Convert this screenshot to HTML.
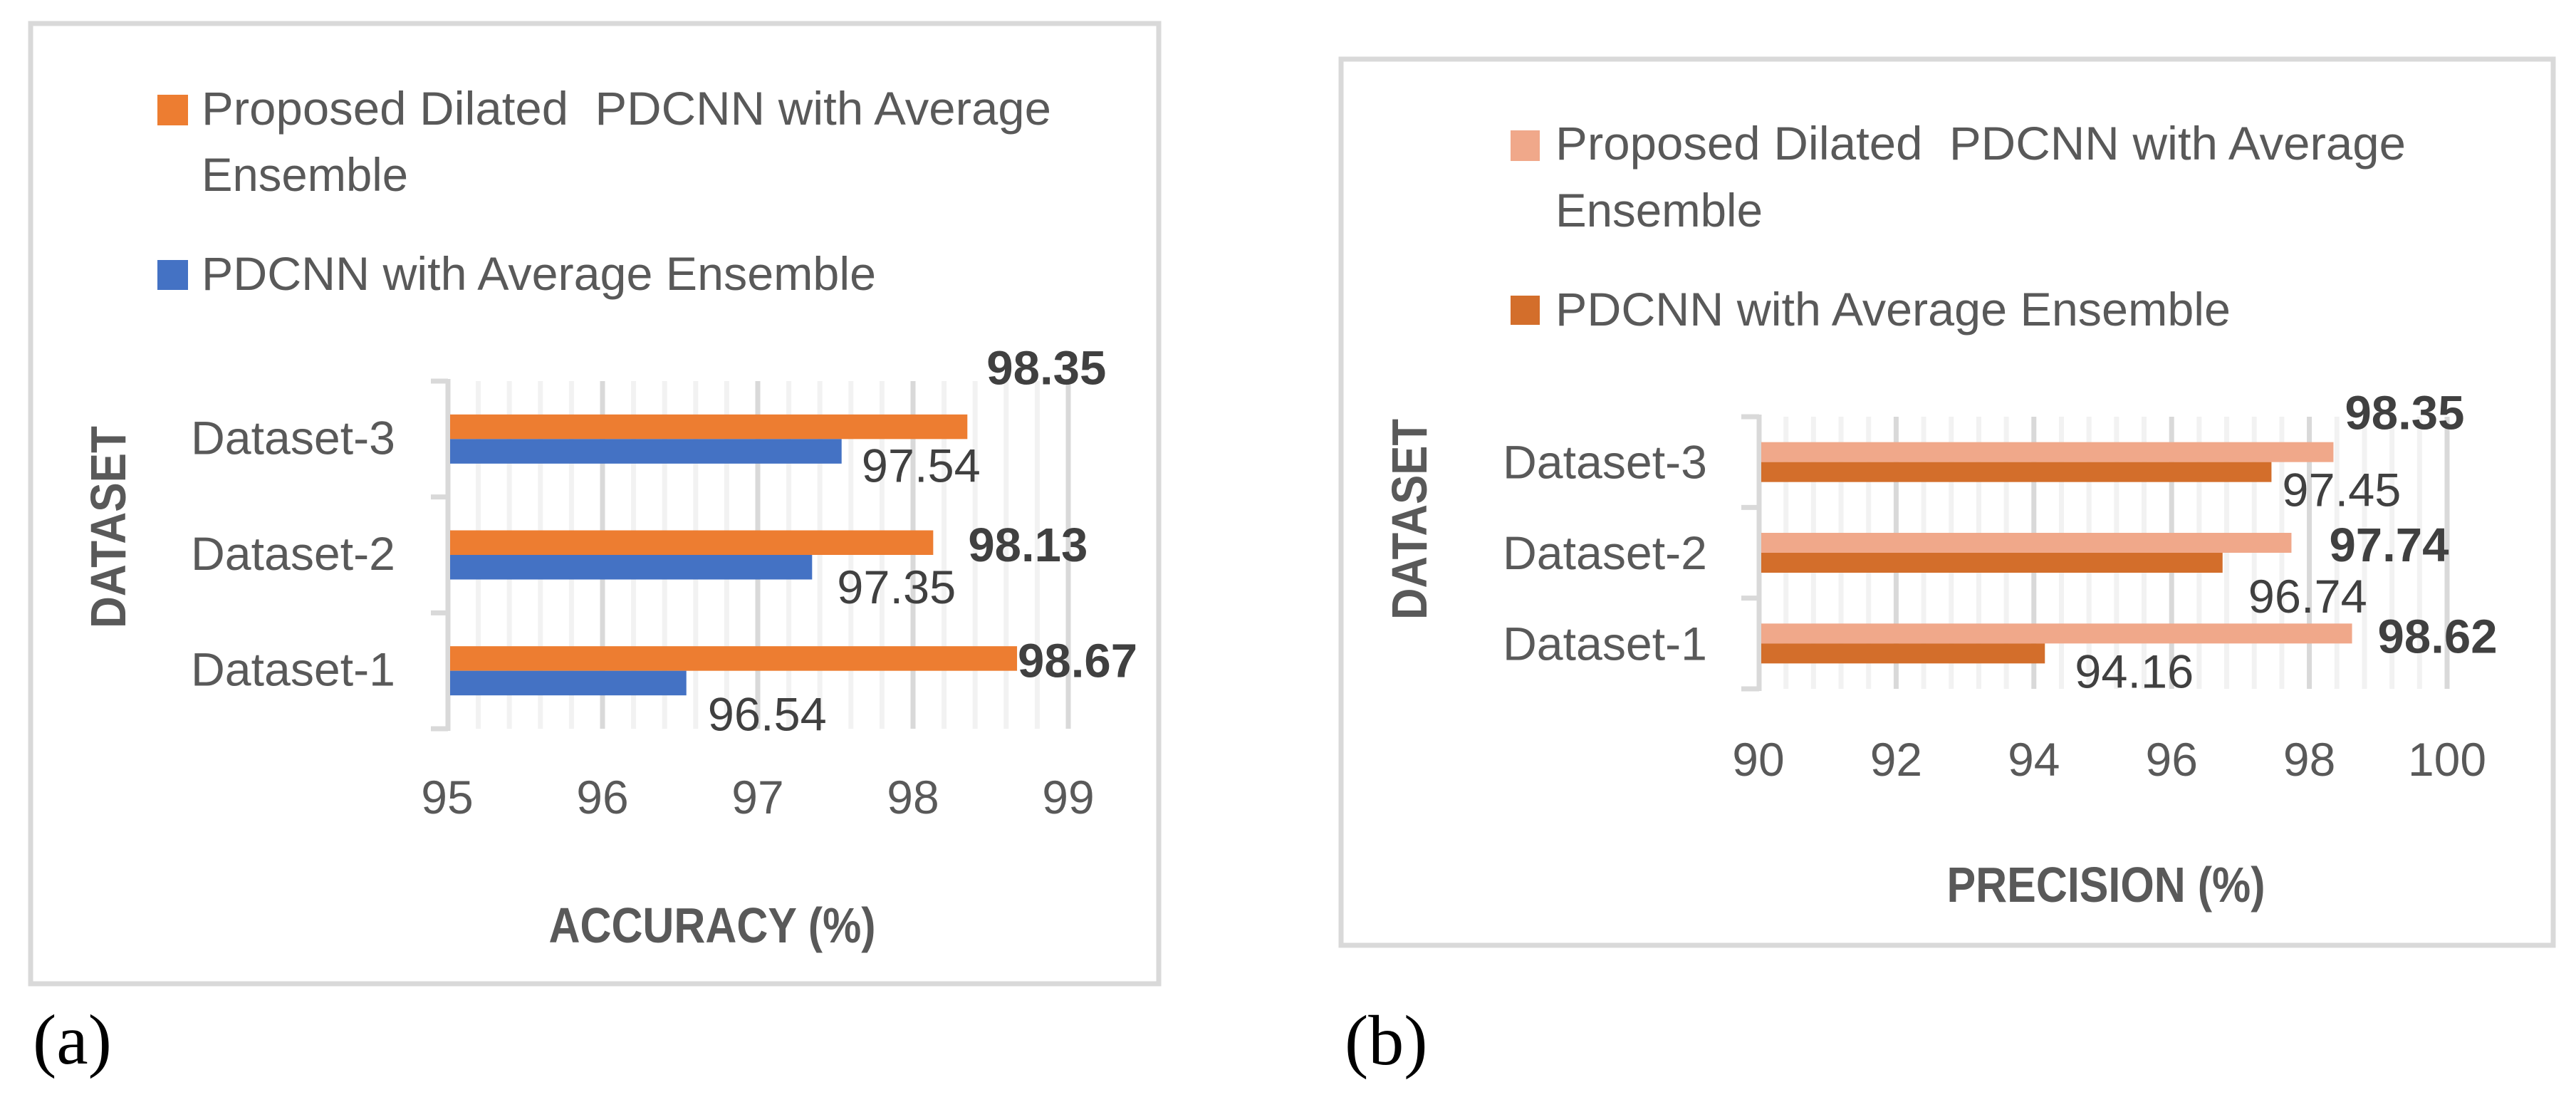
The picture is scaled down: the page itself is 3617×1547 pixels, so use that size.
<!DOCTYPE html>
<html><head><meta charset="utf-8"><style>
html,body{margin:0;padding:0;background:#fff;}
svg{display:block;}
text{font-family:"Liberation Sans",sans-serif;}
</style></head><body>
<svg id="fig" width="3617" height="1547" viewBox="0 0 3617 1547" xmlns="http://www.w3.org/2000/svg">
<g id="panelA">
  <rect x="43" y="33" width="1584" height="1348" fill="#fff" stroke="#d9d9d9" stroke-width="7"/>
  <rect x="221" y="133" width="43" height="43" fill="#ED7D31"/>
  <text x="283" y="175" font-size="66" fill="#595959" textLength="1193" lengthAdjust="spacingAndGlyphs">Proposed Dilated &#160;PDCNN with Average</text>
  <text x="283" y="268" font-size="66" fill="#595959" textLength="290" lengthAdjust="spacingAndGlyphs">Ensemble</text>
  <rect x="221" y="365" width="43" height="42" fill="#4472C4"/>
  <text x="283" y="407" font-size="66" fill="#595959" textLength="947" lengthAdjust="spacingAndGlyphs">PDCNN with Average Ensemble</text>
  <text transform="translate(176,740) rotate(-90)" text-anchor="middle" font-size="70" font-weight="bold" fill="#595959" textLength="284" lengthAdjust="spacingAndGlyphs">DATASET</text>
  <text x="1000" y="1323" text-anchor="middle" font-size="70" font-weight="bold" fill="#595959" textLength="459" lengthAdjust="spacingAndGlyphs">ACCURACY (%)</text>
</g>
<text x="46" y="1493" style="font-family:'Liberation Serif',serif" font-size="100" fill="#000">(a)</text>

<g id="panelB">
  <rect x="1883" y="83" width="1702" height="1244" fill="#fff" stroke="#d9d9d9" stroke-width="7"/>
  <rect x="2121" y="183" width="41" height="43" fill="#F0A88A"/>
  <text x="2184" y="224" font-size="66" fill="#595959" textLength="1194" lengthAdjust="spacingAndGlyphs">Proposed Dilated &#160;PDCNN with Average</text>
  <text x="2184" y="318" font-size="66" fill="#595959" textLength="291" lengthAdjust="spacingAndGlyphs">Ensemble</text>
  <rect x="2121" y="415" width="41" height="41" fill="#D36E2B"/>
  <text x="2184" y="457" font-size="66" fill="#595959" textLength="948" lengthAdjust="spacingAndGlyphs">PDCNN with Average Ensemble</text>
  <text transform="translate(2003,729) rotate(-90)" text-anchor="middle" font-size="70" font-weight="bold" fill="#595959" textLength="282" lengthAdjust="spacingAndGlyphs">DATASET</text>
  <text x="2957" y="1266" text-anchor="middle" font-size="70" font-weight="bold" fill="#595959" textLength="447" lengthAdjust="spacingAndGlyphs">PRECISION (%)</text>
</g>
<text x="1888" y="1494" style="font-family:'Liberation Serif',serif" font-size="100" fill="#000">(b)</text>
</svg>
<script>
// ---- data ----
const categories = ["Dataset-1","Dataset-2","Dataset-3"];
const accProposed = [98.67, 98.13, 98.35];
const accPdcnn = [96.54, 97.35, 97.54];
const accTicks = [95, 96, 97, 98, 99];
const precProposed = [98.62, 97.74, 98.35];
const precPdcnn = [94.16, 96.74, 97.45];
const precTicks = [90, 92, 94, 96, 98, 100];

const NS = "http://www.w3.org/2000/svg";
function mk(tag, attrs, parent){const e=document.createElementNS(NS,tag);for(const k in attrs)e.setAttribute(k,attrs[k]);parent.appendChild(e);return e;}

function drawChart(g, cfg){
  const x = v => cfg.x0 + (v - cfg.min) * cfg.unit;
  const bandH = (cfg.bottom - cfg.top) / cfg.cats.length;
  const center = i => cfg.bottom - bandH * (i + 0.5);
  for (let v = cfg.min; v <= cfg.max + 1e-9; v += cfg.minor) {
    const isMajor = Math.abs((v - cfg.min) / cfg.major - Math.round((v - cfg.min) / cfg.major)) < 1e-6;
    if (v === cfg.min) continue;
    const l = mk("line", {x1:x(v), x2:x(v), y1:cfg.top, y2:cfg.bottom, stroke:isMajor?"#d9d9d9":"#f2f2f2", "stroke-width":7}, g);
    
    
  }
  const ax = mk("line", {x1:x(cfg.min)+1, x2:x(cfg.min)+1, y1:cfg.top-3, y2:cfg.bottom+3, stroke:"#d9d9d9", "stroke-width":7}, g);
  
  
  for (let i = 0; i <= cfg.cats.length; i++) {
    const yy = cfg.bottom - bandH * i;
    const t = mk("line", {x1:cfg.tickLeft, x2:x(cfg.min)+1, y1:yy, y2:yy, stroke:"#d9d9d9", "stroke-width":7}, g);
    
    
  }
  cfg.cats.forEach((c, i) => {
    const cy = center(i);
    const b1 = mk("rect", {x:x(cfg.min)+4, y:cy - cfg.barH, width:x(cfg.s1[i]) - x(cfg.min) - 4, height:cfg.barH, fill:cfg.c1}, g);
    
    
    const b2 = mk("rect", {x:x(cfg.min)+4, y:cy, width:x(cfg.s2[i]) - x(cfg.min) - 4, height:cfg.barH, fill:cfg.c2}, g);
    
    
    const cl = mk("text", {x:cfg.catRight, y:cy + cfg.catDy, "text-anchor":"end", "font-size":66, fill:"#595959", textLength:287, lengthAdjust:"spacingAndGlyphs"}, g);
    cl.textContent = c;
    
    
    const l1 = mk("text", {x:x(cfg.s1[i]) + cfg.d1x[i], y:cy + cfg.d1y[i], "font-size":67, "font-weight":"bold", fill:"#404040", textLength:168, lengthAdjust:"spacingAndGlyphs"}, g);
    l1.textContent = cfg.s1[i].toFixed(2);
    
    
    const l2 = mk("text", {x:x(cfg.s2[i]) + cfg.d2x[i], y:cy + cfg.d2y[i], "font-size":66, fill:"#404040", textLength:167, lengthAdjust:"spacingAndGlyphs"}, g);
    l2.textContent = cfg.s2[i].toFixed(2);
    
    
  });
  cfg.ticks.forEach(v => {
    const t = mk("text", {x:x(v), y:cfg.tickY, "text-anchor":"middle", "font-size":66, fill:"#595959"}, g);
    t.textContent = String(v);
    
    
  });
}

drawChart(document.getElementById("panelA"), {
  cats:categories, s1:accProposed, s2:accPdcnn, ticks:accTicks,
  min:95, max:99, major:1, minor:0.2, x0:628, unit:218,
  top:535, bottom:1023, barH:34.5, tickLeft:605, catRight:555, catDy:21, tickY:1142,
  c1:"#ED7D31", c2:"#4472C4",
  d1x:[1, 49, 27], d1y:[9, 9, -77], d2x:[30, 35, 28], d2y:[84, 68, 60]
});
drawChart(document.getElementById("panelB"), {
  cats:categories, s1:precProposed, s2:precPdcnn, ticks:precTicks,
  min:90, max:100, major:2, minor:0.4, x0:2469, unit:96.7,
  top:585, bottom:967, barH:28, tickLeft:2445, catRight:2397, catDy:23, tickY:1089,
  c1:"#F0A88A", c2:"#D36E2B",
  d1x:[36, 53, 16], d1y:[13, 12, -46], d2x:[42, 36, 15], d2y:[62, 84, 62]
});
</script>
</body></html>
